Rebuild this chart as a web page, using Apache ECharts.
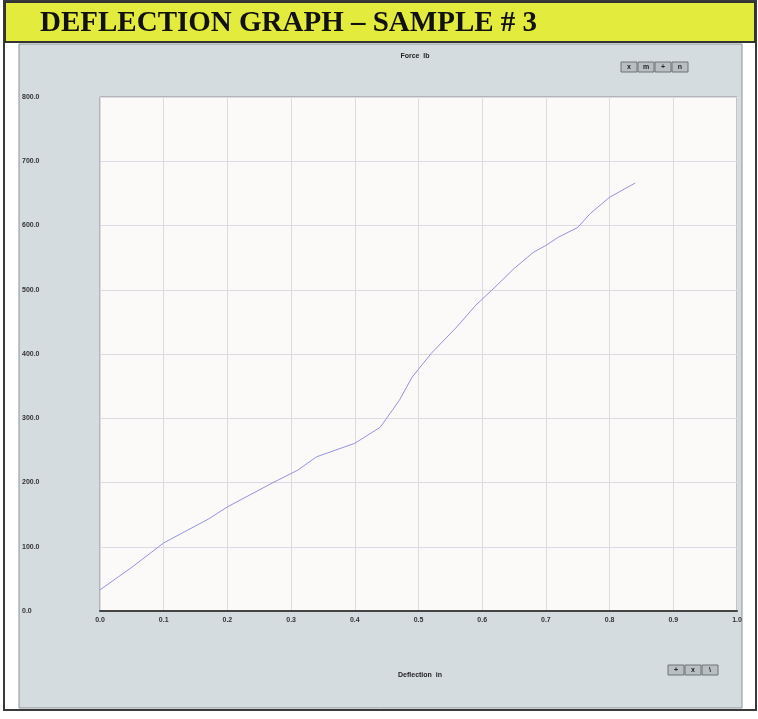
<!DOCTYPE html>
<html>
<head>
<meta charset="utf-8">
<script src="https://cdn.jsdelivr.net/npm/echarts@6/dist/echarts.min.js"></script>
<style>
  html, body { margin: 0; padding: 0; background: #fff; }
  #main { width: 758px; height: 719px; }
</style>
</head>
<body>
<div id="main"></div>
<script>
// deflection (in) vs force (lb)
var deflection = [0.00, 0.05, 0.10, 0.17, 0.20, 0.27, 0.31, 0.34, 0.40, 0.44, 0.47, 0.49,
                  0.52, 0.56, 0.59, 0.62, 0.65, 0.68, 0.70, 0.72, 0.75, 0.77, 0.80, 0.84];
var force = [33, 68, 106, 143, 162, 199, 219, 240, 261, 286, 328, 364,
             401, 442, 476, 504, 533, 558, 569, 582, 597, 619, 644, 666];

var xTicks = ["0.0", "0.1", "0.2", "0.3", "0.4", "0.5", "0.6", "0.7", "0.8", "0.9", "1.0"];
var yTicks = ["0.0", "100.0", "200.0", "300.0", "400.0", "500.0", "600.0", "700.0", "800.0"];

var points = deflection.map(function (d, i) { return [d, force[i]]; });

// little toolbar buttons like the scanned app
function buttons(x, y, labels) {
  var kids = [];
  labels.forEach(function (t, i) {
    kids.push({
      type: 'rect', shape: { x: x + i * 17, y: y, width: 16, height: 10 },
      style: { fill: '#b8bfc2', stroke: '#6d7376', lineWidth: 1 }
    });
    kids.push({
      type: 'text', x: x + i * 17 + 8, y: y + 5,
      style: { text: t, fontSize: 7, fontWeight: 'bold', fill: '#222', align: 'center', verticalAlign: 'middle' }
    });
  });
  return { type: 'group', silent: true, children: kids };
}

var chart = echarts.init(document.getElementById('main'));
chart.setOption({
  backgroundColor: '#ffffff',
  animation: false,
  graphic: [
    // outer frame
    { type: 'rect', z: -10, shape: { x: 4, y: 1, width: 752, height: 709 }, style: { fill: '#ffffff', stroke: '#3a3a3a', lineWidth: 2 } },
    // grey panel
    { type: 'rect', z: -9, shape: { x: 19, y: 44, width: 723, height: 664 }, style: { fill: '#d5dcdf', stroke: '#8c9497', lineWidth: 1 } },
    // yellow title bar
    { type: 'rect', z: -8, shape: { x: 5, y: 2, width: 750, height: 40 }, style: { fill: '#e3eb3c', stroke: '#333', lineWidth: 2 } },
    { type: 'text', x: 40, y: 24, style: { text: 'DEFLECTION GRAPH \u2013 SAMPLE # 3', font: 'bold 29px "Liberation Serif"', fill: '#111', verticalAlign: 'middle' } },
    // axis titles
    { type: 'text', x: 415, y: 56, style: { text: 'Force  lb', fontSize: 7, fontWeight: 'bold', fill: '#222', align: 'center', verticalAlign: 'middle' } },
    { type: 'text', x: 420, y: 675, style: { text: 'Deflection  in', fontSize: 7, fontWeight: 'bold', fill: '#222', align: 'center', verticalAlign: 'middle' } },
    buttons(621, 62, ['x', 'm', '+', 'n']),
    buttons(668, 665, ['+', 'x', '\\'])
  ],
  grid: { left: 100, right: 21, top: 97, bottom: 108, show: true, backgroundColor: '#fcf9f9', borderColor: '#8f8f8f', borderWidth: 1 },
  xAxis: {
    type: 'value', min: 0, max: 1, interval: 0.1,
    axisLine: { show: true, lineStyle: { color: '#444', width: 2 } },
    axisTick: { show: false },
    splitLine: { show: true, lineStyle: { color: '#dedae3', width: 1 } },
    axisLabel: {
      margin: 6, fontSize: 7, fontWeight: 'bold', color: '#333',
      formatter: function (v) { return xTicks[Math.round(v * 10)]; }
    }
  },
  yAxis: {
    type: 'value', min: 0, max: 800, interval: 100,
    axisLine: { show: false },
    axisTick: { show: false },
    splitLine: { show: true, lineStyle: { color: '#dedae3', width: 1 } },
    axisLabel: {
      margin: 78, align: 'left', fontSize: 7, fontWeight: 'bold', color: '#333',
      formatter: function (v) { return yTicks[Math.round(v / 100)]; }
    }
  },
  series: [{
    type: 'line',
    data: points,
    showSymbol: false,
    lineStyle: { color: '#9494dc', width: 1 }
  }]
});
</script>
</body>
</html>
